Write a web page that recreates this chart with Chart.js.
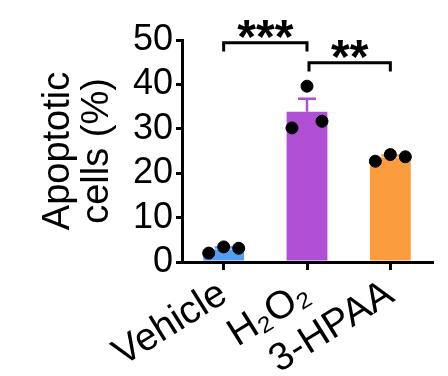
<!DOCTYPE html>
<html>
<head>
<meta charset="utf-8">
<script src="https://cdn.jsdelivr.net/npm/chart.js@4/dist/chart.umd.min.js"></script>
<style>
  html, body { margin: 0; padding: 0; background: #fff; }
  #wrap { width: 448px; height: 376px; }
</style>
</head>
<body>
<div id="wrap"><canvas id="apoptosis" width="448" height="376"></canvas></div>
<script>
// groups and replicate values (% apoptotic cells)
var groups = ["Vehicle", "H\u2082O\u2082", "3-HPAA"];
var vehicle = [2.0, 3.4, 3.1];
var h2o2 = [30.2, 39.6, 31.7];
var hpaa = [22.7, 24.2, 23.7];
var replicates = [vehicle, h2o2, hpaa];
var yTicks = [0, 10, 20, 30, 40, 50];

// significance brackets
var sigPairs = [[0, 1], [1, 2]];
var sigLevels = [49.4, 44.9];
var sigLabels = ["***", "**"];

var barColors = ["#529ef0", "#b04fd3", "#fb9d3e"];
var jitter = [-0.18, 0, 0.18];

function $each(a, fn){ for (var i = 0; i < a.length; i++) fn(a[i], i); }
function mean(a){
  var s = 0;
  $each(a, function(v){ s += v; });
  return s / a.length;
}
function sem(a){
  var m = mean(a), ss = 0;
  $each(a, function(v){ ss += (v - m) * (v - m); });
  return Math.sqrt(ss / (a.length - 1)) / Math.sqrt(a.length);
}

var means = replicates.map(mean);
var errs = replicates.map(sem);

var dots = [];
$each(replicates, function(vals, g){
  $each(vals, function(v, k){
    dots.push({x: g + jitter[k], y: v});
  });
});

var font = "'Liberation Sans', Arial, Helvetica, sans-serif";

// error bars (upper half only), drawn right after the bars
var errorBars = {
  id: "errorBars",
  afterDatasetDraw: function(chart, args){
    if (args.index !== 0) return;
    var ctx = chart.ctx, y = chart.scales.y, meta = chart.getDatasetMeta(0);
    ctx.save();
    ctx.lineWidth = 2.5;
    $each(meta.data, function(bar, i){
      var top = y.getPixelForValue(means[i] + errs[i]);
      ctx.strokeStyle = barColors[i];
      ctx.beginPath();
      ctx.moveTo(bar.x, bar.y);
      ctx.lineTo(bar.x, top);
      ctx.moveTo(bar.x - 9, top);
      ctx.lineTo(bar.x + 9, top);
      ctx.stroke();
    });
    ctx.restore();
  }
};

var brackets = {
  id: "brackets",
  afterDraw: function(chart){
    var ctx = chart.ctx, x = chart.scales.x, y = chart.scales.y;
    ctx.save();
    ctx.strokeStyle = "#000";
    ctx.lineWidth = 3;
    ctx.fillStyle = "#000";
    ctx.font = "bold 48px " + font;
    ctx.textAlign = "center";
    ctx.textBaseline = "alphabetic";
    $each(sigPairs, function(p, i){
      var x1 = x.getPixelForValue(p[0]) + (i > 0 ? 2 : 0);
      var x2 = x.getPixelForValue(p[1]);
      var top = y.getPixelForValue(sigLevels[i]);
      var foot = y.getPixelForValue(sigLevels[i] - 2);
      ctx.beginPath();
      ctx.moveTo(x1, foot);
      ctx.lineTo(x1, top);
      ctx.lineTo(x2, top);
      ctx.lineTo(x2, foot);
      ctx.stroke();
      var m = ctx.measureText(sigLabels[i]);
      var cy = top - 14;
      var base = cy + (m.actualBoundingBoxAscent - m.actualBoundingBoxDescent) / 2;
      ctx.fillText(sigLabels[i], (x1 + x2) / 2, base);
    });
    ctx.restore();
  }
};

var ctx = document.getElementById("apoptosis");
var chart = new Chart(ctx, {
  type: "bar",
  data: {
    labels: groups,
    datasets: [
      {
        data: means,
        backgroundColor: barColors,
        borderWidth: 0,
        grouped: false,
        barPercentage: 0.49,
        categoryPercentage: 1.0,
        order: 2
      },
      {
        type: "scatter",
        data: dots,
        xAxisID: "xs",
        backgroundColor: "#000",
        borderColor: "#000",
        pointRadius: 6,
        pointHoverRadius: 6,
        order: 1
      }
    ]
  },
  options: {
    responsive: false,
    animation: false,
    devicePixelRatio: 1,
    layout: { padding: { left: 8, top: 40, right: 16, bottom: 0 } },
    plugins: {
      legend: { display: false },
      tooltip: { enabled: false }
    },
    scales: {
      x: {
        offset: true,
        grid: { display: true, offset: false, drawOnChartArea: false, drawTicks: true, tickLength: 8, color: "#000", lineWidth: 3 },
        border: { display: true, color: "#000", width: 3 },
        ticks: {
          color: "#000",
          font: { family: font, size: 39 },
          autoSkip: false,
          minRotation: 32,
          maxRotation: 32,
          padding: 1
        },
        afterFit: function(scale){ scale.height = 114; }
      },
      xs: {
        type: "linear",
        display: false,
        offset: false,
        min: -0.5,
        max: 2.5
      },
      y: {
        min: 0,
        max: 50,
        afterBuildTicks: function(scale){
          scale.ticks = yTicks.map(function(v){ return {value: v}; });
        },
        grid: { display: true, drawOnChartArea: false, drawTicks: true, tickLength: 6, color: "#000", lineWidth: 3 },
        border: { display: true, color: "#000", width: 3 },
        ticks: {
          color: "#000",
          font: { family: font, size: 36 },
          autoSkip: false,
          padding: 3
        },
        title: {
          display: true,
          text: ["Apoptotic", "cells (%)"],
          color: "#000",
          font: { family: font, size: 38, lineHeight: 1.03 },
          padding: { top: 31, bottom: 0 }
        },
        afterFit: function(scale){ scale.width = 174; }
      }
    }
  },
  plugins: [errorBars, brackets]
});
</script>
</body>
</html>
